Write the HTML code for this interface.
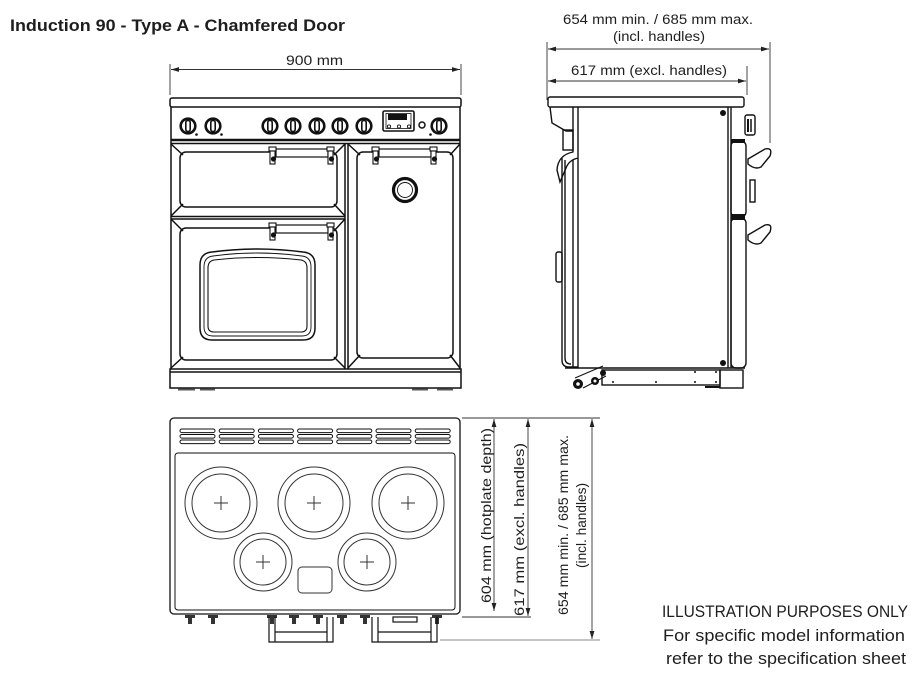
<!DOCTYPE html>
<html><head><meta charset="utf-8"><style>
html,body{margin:0;padding:0;background:#fff;}
svg{display:block;}
text{font-family:"Liberation Sans",sans-serif;fill:#1e1e1e;}
</style></head><body>
<svg width="919" height="676" viewBox="0 0 919 676" xmlns="http://www.w3.org/2000/svg">
<defs>
<marker id="a" viewBox="0 0 10 6" refX="10" refY="3" markerWidth="8" markerHeight="5" orient="auto-start-reverse" markerUnits="userSpaceOnUse"><path d="M0 0L10 3L0 6z" fill="#222"/></marker>
<g id="knob"><circle r="7.3" fill="#fff" stroke="#111" stroke-width="2.6"/><rect x="-2.2" y="-5.5" width="4.4" height="11" rx="2" fill="none" stroke="#111" stroke-width="1.6"/></g>
<g id="tk"><path d="M-5 0H5V3H2V9H-2V3H-5Z" fill="#333"/></g>
<g id="br"><rect x="0" y="0" width="7" height="4" fill="#fff" stroke="#111" stroke-width="1.1"/><rect x="1" y="4" width="5" height="13" fill="#fff" stroke="#111" stroke-width="1.1"/><circle cx="4.5" cy="12" r="2.6" fill="#111"/></g>
</defs>

<!-- Title -->
<text x="10" y="31" font-size="17" font-weight="bold" textLength="335" lengthAdjust="spacingAndGlyphs">Induction 90 - Type A - Chamfered Door</text>

<!-- ============ FRONT VIEW ============ -->
<g stroke="#333" stroke-width="0.9" fill="none">
<line x1="170" y1="64" x2="170" y2="95"/>
<line x1="461" y1="64" x2="461" y2="95"/>
<line x1="171" y1="69.5" x2="460" y2="69.5" marker-start="url(#a)" marker-end="url(#a)"/>
</g>
<text x="286" y="65" font-size="13.5" textLength="57" lengthAdjust="spacingAndGlyphs">900 mm</text>

<g stroke="#111" stroke-width="1.5" fill="none">
<rect x="170" y="98" width="291" height="9" rx="2"/>
<line x1="171" y1="107" x2="171" y2="369"/>
<line x1="460" y1="107" x2="460" y2="369"/>
<line x1="171" y1="140" x2="460" y2="140" stroke-width="2.4"/>
<line x1="171" y1="143.5" x2="460" y2="143.5"/>
<line x1="345" y1="143" x2="345" y2="369"/>
<line x1="348" y1="143" x2="348" y2="369"/>
<line x1="171" y1="216.5" x2="345" y2="216.5"/>
<line x1="171" y1="219" x2="345" y2="219"/>
<!-- doors inner -->
<rect x="180" y="152" width="157" height="55" rx="6"/>
<rect x="180" y="228" width="157" height="132" rx="6"/>
<rect x="357" y="152" width="96" height="206" rx="6"/>
<!-- chamfers -->
<path d="M171 144L183 155M345 144L334 155M171 216L183 204M345 216L334 204"/>
<path d="M171 219L183 231M345 219L334 231M171 368L183 357M345 368L334 357"/>
<path d="M348 144L360 155M460 144L450 155M348 368L360 355M460 368L450 355"/>
<!-- window -->
<path d="M212 252Q257 246 303 252Q315 253 315 265V328Q315 340 303 340H212Q200 340 200 328V265Q200 253 212 252Z"/>
<path d="M213 256Q257 250 302 256Q311 257 311 267V327Q311 336 302 336H213Q204 336 204 327V267Q204 257 213 256Z" stroke-width="0.9"/>
<path d="M214 260Q257 255 301 260Q307 261 307 268V326Q307 332 301 332H214Q208 332 208 326V268Q208 261 214 260Z" stroke-width="1.1"/>
<!-- plinth -->
<rect x="170" y="369" width="291" height="19"/>
<line x1="170" y1="372" x2="461" y2="372"/>
</g>
<g stroke="#555" stroke-width="2"><line x1="178" y1="389.5" x2="195" y2="389.5"/><line x1="200" y1="389.5" x2="215" y2="389.5"/><line x1="412" y1="389.5" x2="428" y2="389.5"/><line x1="437" y1="389.5" x2="453" y2="389.5"/></g>

<!-- knobs -->
<use href="#knob" x="188" y="126"/><use href="#knob" x="213" y="126"/>
<use href="#knob" x="270" y="126"/><use href="#knob" x="293" y="126"/><use href="#knob" x="317" y="126"/><use href="#knob" x="340" y="126"/><use href="#knob" x="364" y="126"/>
<use href="#knob" x="439" y="126"/>
<circle cx="196.5" cy="134.5" r="1.3" fill="#111"/><circle cx="221.5" cy="134.5" r="1.3" fill="#111"/><circle cx="430.5" cy="134.5" r="1.3" fill="#111"/>
<circle cx="422" cy="125" r="3" fill="#fff" stroke="#111" stroke-width="1.5"/>
<!-- clock -->
<rect x="383" y="111" width="31" height="20" rx="1.5" fill="#fff" stroke="#111" stroke-width="1.6"/>
<rect x="386" y="113.5" width="25" height="15" fill="none" stroke="#111" stroke-width="0.8"/>
<rect x="388" y="114" width="19" height="6" fill="#111"/>
<g fill="#fff" stroke="#111" stroke-width="0.9"><circle cx="389" cy="126.5" r="1.6"/><circle cx="399" cy="126.5" r="1.6"/><circle cx="409" cy="126.5" r="1.6"/></g>

<!-- handles -->
<g stroke="#111" stroke-width="1.2" fill="#fff">
<rect x="276" y="149" width="52" height="8"/>
<rect x="379" y="149" width="52" height="8"/>
<rect x="276" y="225" width="52" height="8"/>
</g>
<use href="#br" x="269" y="147"/><use href="#br" x="327" y="147"/>
<use href="#br" x="372" y="147"/><use href="#br" x="430" y="147"/>
<use href="#br" x="269" y="223"/><use href="#br" x="327" y="223"/>
<!-- right door knob -->
<circle cx="405" cy="190" r="11.5" fill="#fff" stroke="#111" stroke-width="3.2"/>
<circle cx="405" cy="190" r="7.5" fill="none" stroke="#111" stroke-width="0.9"/>

<!-- ============ SIDE VIEW ============ -->
<g stroke="#333" stroke-width="0.9" fill="none">
<line x1="547" y1="42" x2="547" y2="100"/>
<line x1="770" y1="42" x2="770" y2="143"/>
<line x1="747" y1="66" x2="747" y2="95"/>
<line x1="548" y1="49" x2="769" y2="49" marker-start="url(#a)" marker-end="url(#a)"/>
<line x1="548" y1="81" x2="746" y2="81" marker-start="url(#a)" marker-end="url(#a)"/>
</g>
<text x="563" y="24" font-size="13.5" textLength="190" lengthAdjust="spacingAndGlyphs">654 mm min. / 685 mm max.</text>
<text x="613" y="41" font-size="13.5" textLength="92" lengthAdjust="spacingAndGlyphs">(incl. handles)</text>
<text x="571" y="75" font-size="13.5" textLength="156" lengthAdjust="spacingAndGlyphs">617 mm (excl. handles)</text>

<g stroke="#111" stroke-width="1.4" fill="none">
<rect x="548" y="97" width="196" height="10" rx="2"/>
<line x1="573" y1="107" x2="573" y2="368"/>
<line x1="578" y1="107" x2="578" y2="368"/>
<line x1="728" y1="107" x2="728" y2="368"/>
<line x1="731" y1="107" x2="731" y2="368"/>
<path d="M550 107L552 123L566 131H573"/>
<rect x="563" y="130" width="10" height="20"/>
<path d="M573 152Q558 155 557 170L560 182L566 168Q569 160 578 158" fill="#fff"/>
<path d="M562 158V360Q562 367 569 367H578" />
<path d="M565 160V358Q565 364 571 364"/>
<rect x="556" y="252" width="6" height="30" rx="2"/>
<line x1="565" y1="368" x2="745" y2="368"/>
<!-- doors -->
<rect x="731" y="141" width="15" height="76" rx="5"/>
<rect x="731" y="218" width="15" height="150" rx="5"/>
<rect x="745" y="115" width="10" height="20" rx="2"/>
<path d="M748 159L765 149Q773 147 770 156L761 167Q755 170 748 164Z" fill="#fff"/>
<path d="M748 235L765 225Q773 223 770 232L761 243Q755 246 748 240Z" fill="#fff"/>
<rect x="750" y="180" width="5" height="22"/>
<!-- base -->
<rect x="602" y="370" width="118" height="15"/>
<rect x="720" y="370" width="23" height="18"/>
<path d="M575 378L603 366M583 388L606 376" stroke-width="1.1"/>
</g>
<rect x="731" y="139" width="14" height="4" fill="#111"/>
<rect x="731" y="214" width="14" height="6" fill="#111"/>
<line x1="748" y1="119" x2="748" y2="132" stroke="#111" stroke-width="2"/>
<line x1="751" y1="119" x2="751" y2="132" stroke="#111" stroke-width="1.5"/>
<circle cx="723" cy="113" r="3" fill="#111"/>
<circle cx="723" cy="363" r="3" fill="#111"/>
<circle cx="578" cy="384" r="5" fill="#111"/><circle cx="578" cy="384" r="1.8" fill="#fff"/>
<circle cx="595" cy="381" r="4" fill="#111"/><circle cx="595" cy="381" r="1.5" fill="#fff"/>
<circle cx="603" cy="373" r="3" fill="#111"/>
<g fill="#111"><circle cx="613" cy="382" r="1"/><circle cx="656" cy="382" r="1"/><circle cx="695" cy="382" r="1"/><circle cx="716" cy="382" r="1"/><circle cx="695" cy="372" r="1"/><circle cx="716" cy="372" r="1"/></g>
<line x1="705" y1="387" x2="720" y2="387" stroke="#111" stroke-width="2"/>

<!-- ============ TOP VIEW ============ -->
<g stroke="#111" stroke-width="1.3" fill="none">
<rect x="170" y="418" width="290" height="196" rx="4"/>
<rect x="175" y="453" width="280" height="157" rx="3" stroke-width="1"/>
</g>
<g stroke="#111" stroke-width="1" fill="none">
<g id="vg">
<rect x="180" y="429" width="35" height="3.6" rx="1.8"/>
<rect x="180" y="434.5" width="35" height="3.6" rx="1.8"/>
<rect x="180" y="440" width="35" height="3.6" rx="1.8"/>
</g>
<use href="#vg" x="39.2"/><use href="#vg" x="78.4"/><use href="#vg" x="117.6"/><use href="#vg" x="156.8"/><use href="#vg" x="196"/><use href="#vg" x="235.2"/>
</g>
<g stroke="#333" stroke-width="1" fill="none">
<circle cx="221" cy="503" r="36"/><circle cx="221" cy="503" r="29"/>
<circle cx="314" cy="503" r="36"/><circle cx="314" cy="503" r="29"/>
<circle cx="408" cy="503" r="36"/><circle cx="408" cy="503" r="29"/>
<circle cx="263" cy="562" r="29"/><circle cx="263" cy="562" r="23"/>
<circle cx="367" cy="562" r="29"/><circle cx="367" cy="562" r="23"/>
<path d="M214 503H228M221 496V510M307 503H321M314 496V510M401 503H415M408 496V510M256 562H270M263 555V569M360 562H374M367 555V569"/>
<rect x="298" y="567" width="34" height="26" rx="4"/>
</g>
<!-- top view bottom knobs/handles -->
<use href="#tk" x="190" y="615"/><use href="#tk" x="213" y="615"/>
<use href="#tk" x="272" y="615"/><use href="#tk" x="294" y="615"/><use href="#tk" x="318" y="615"/><use href="#tk" x="342" y="615"/><use href="#tk" x="365" y="615"/>
<use href="#tk" x="437" y="615"/>
<rect x="393" y="617" width="24" height="5" fill="none" stroke="#111" stroke-width="1.2"/>
<g stroke="#111" stroke-width="1.2" fill="none">
<path d="M269 617V642H333V617M275 617V632H327V617M275 632V642M327 632V642"/>
<path d="M372 617V642H437V617M378 617V632H431V617M378 632V642M431 632V642"/>
</g>

<!-- vertical dimensions -->
<g stroke="#333" stroke-width="0.9" fill="none">
<line x1="462" y1="418" x2="600" y2="418"/>
<line x1="462" y1="617" x2="531" y2="617"/>
<line x1="440" y1="640" x2="600" y2="640" stroke="#888"/>
<line x1="494" y1="419" x2="494" y2="611" marker-start="url(#a)" marker-end="url(#a)"/>
<line x1="528" y1="419" x2="528" y2="616" marker-start="url(#a)" marker-end="url(#a)"/>
<line x1="592" y1="419" x2="592" y2="639" marker-start="url(#a)" marker-end="url(#a)"/>
</g>
<text transform="translate(491,603) rotate(-90)" font-size="13.5" textLength="175" lengthAdjust="spacingAndGlyphs">604 mm (hotplate depth)</text>
<text transform="translate(524,616) rotate(-90)" font-size="13.5" textLength="173" lengthAdjust="spacingAndGlyphs">617 mm (excl. handles)</text>
<text transform="translate(568,615) rotate(-90)" font-size="13.5" textLength="180" lengthAdjust="spacingAndGlyphs">654 mm min. / 685 mm max.</text>
<text transform="translate(586,568) rotate(-90)" font-size="13.5" textLength="85" lengthAdjust="spacingAndGlyphs">(incl. handles)</text>

<!-- note -->
<text x="662" y="617" font-size="16.5" textLength="246" lengthAdjust="spacingAndGlyphs">ILLUSTRATION PURPOSES ONLY</text>
<text x="663" y="641" font-size="16.5" textLength="242" lengthAdjust="spacingAndGlyphs">For specific model information</text>
<text x="666" y="664" font-size="16.5" textLength="240" lengthAdjust="spacingAndGlyphs">refer to the specification sheet</text>
</svg>
</body></html>
